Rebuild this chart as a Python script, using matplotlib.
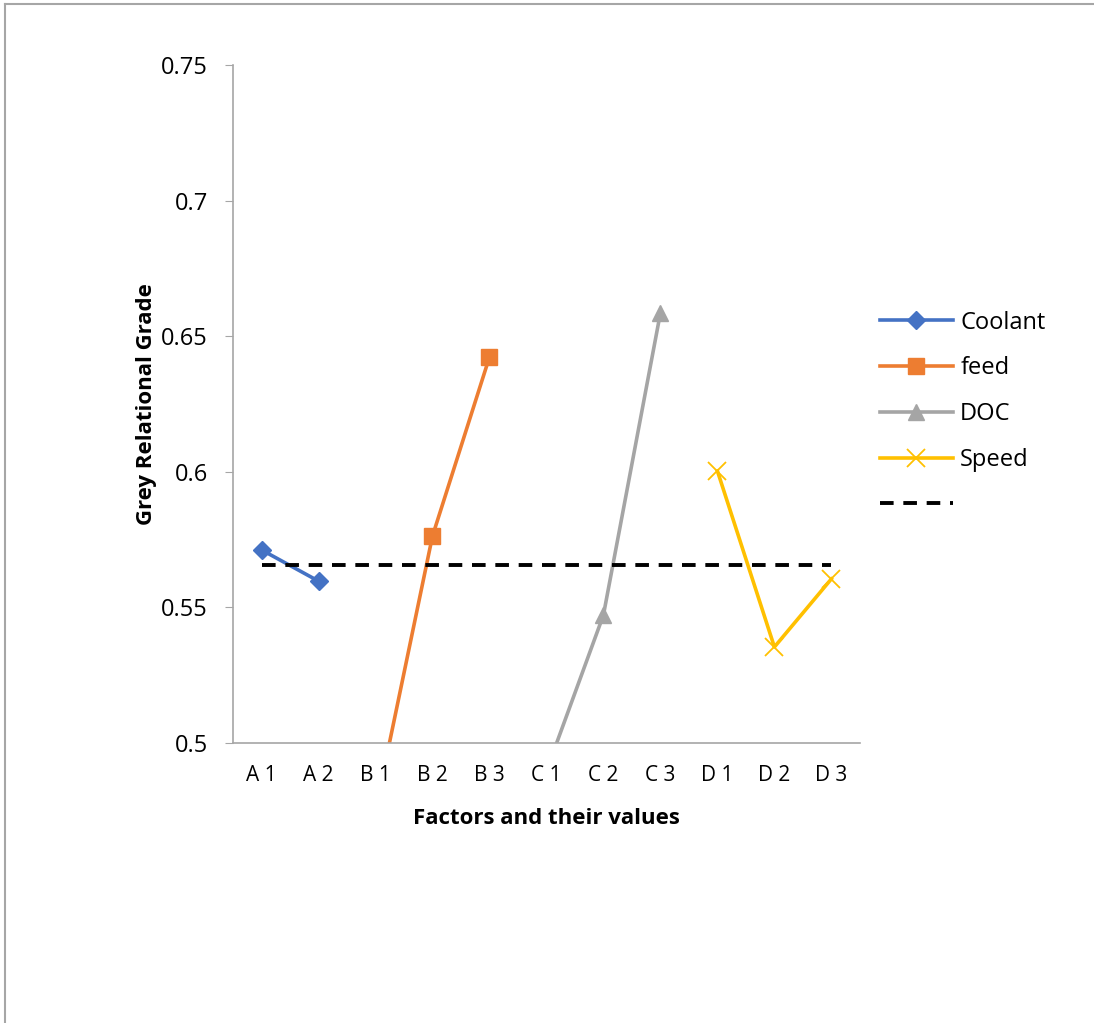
import matplotlib.pyplot as plt
from matplotlib.lines import Line2D

categories = ["A 1", "A 2", "B 1", "B 2", "B 3", "C 1", "C 2", "C 3", "D 1", "D 2", "D 3"]

coolant = [0.5712, 0.5597]
feed = [0.4753, 0.5763, 0.6423]
doc = [0.4897, 0.5472, 0.6586]
speed = [0.6003, 0.5354, 0.5605]
mean_grade = 0.5656

plt.rcParams["font.family"] = ["Open Sans", "DejaVu Sans"]

fig = plt.figure(figsize=(10.94, 10.23), dpi=100)
ax = fig.add_axes([0.213, 0.2737, 0.573, 0.6628])

x = list(range(len(categories)))

ax.plot(x[0:2], coolant, color="#4472C4", lw=2.6, marker="D", ms=9, label="Coolant")
ax.plot(x[2:5], feed, color="#ED7D31", lw=2.6, marker="s", ms=11, label="feed")
ax.plot(x[5:8], doc, color="#A5A5A5", lw=2.6, marker="^", ms=11, label="DOC")
ax.plot(x[8:11], speed, color="#FFC000", lw=2.6, marker="x", ms=13, mew=1.3, label="Speed")
ax.plot([x[0], x[-1]], [mean_grade, mean_grade], color="black", lw=2.8,
        dashes=(3.5, 2.5), label=" ")

ax.set_xlim(-0.5, len(categories) - 0.5)
ax.set_ylim(0.5, 0.75)
ax.set_yticks([0.5, 0.55, 0.6, 0.65, 0.7, 0.75])
ax.set_yticklabels(["0.5", "0.55", "0.6", "0.65", "0.7", "0.75"])
ax.set_xticks(x)
ax.set_xticklabels(categories)

for side in ["top", "right"]:
    ax.spines[side].set_visible(False)
for side in ["left", "bottom"]:
    ax.spines[side].set_color("#A6A6A6")
    ax.spines[side].set_linewidth(1.2)

ax.tick_params(axis="y", direction="out", length=6, color="#A6A6A6", labelsize=17, pad=12)
ax.tick_params(axis="x", length=0, labelsize=15, pad=16)

ax.set_xlabel("Factors and their values", fontsize=16, fontweight="bold", labelpad=16)
ax.set_ylabel("Grey Relational Grade", fontsize=16, fontweight="bold", labelpad=3)

ax.legend(loc="center left", bbox_to_anchor=(0.998, 0.485), frameon=False,
          fontsize=17, handlelength=3.1, labelspacing=0.92, handletextpad=0.3)

# outer chart frame
fig.add_artist(Line2D([0.005, 0.005], [0.0, 0.996], color="#A6A6A6", lw=1.5,
                      transform=fig.transFigure))
fig.add_artist(Line2D([0.005, 1.0], [0.996, 0.996], color="#A6A6A6", lw=1.5,
                      transform=fig.transFigure))

fig.savefig("out.png", dpi=100)
